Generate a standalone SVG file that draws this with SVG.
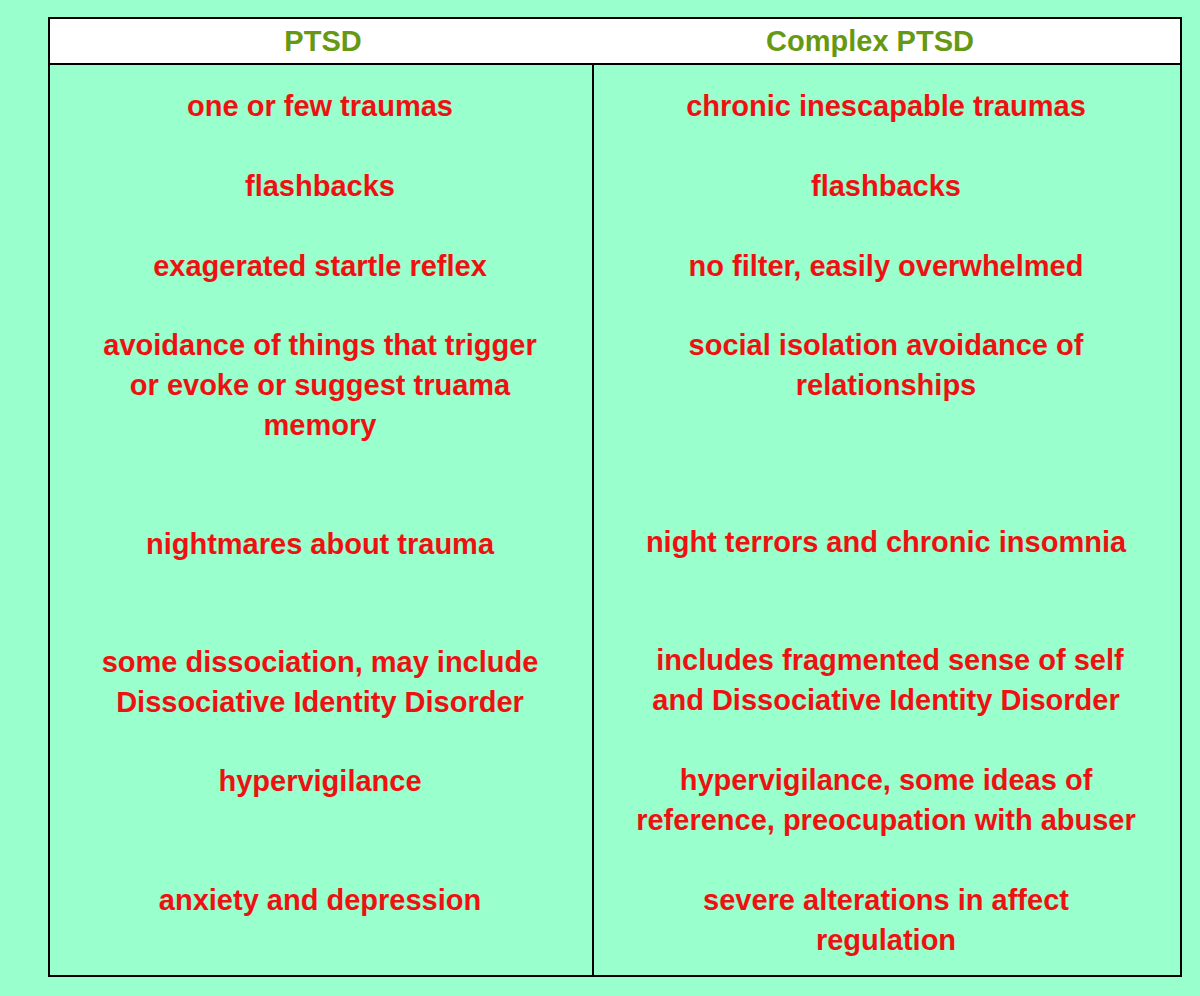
<svg xmlns="http://www.w3.org/2000/svg" width="1200" height="996" viewBox="0 0 1200 996">
<style>
.h{font-family:"Liberation Sans",Arial,sans-serif;font-weight:bold;font-size:29px;fill:#669911;text-anchor:middle}
.t{font-family:"Liberation Sans",Arial,sans-serif;font-weight:bold;font-size:29px;fill:#ee1111;text-anchor:middle}
</style>
<rect width="1200" height="996" fill="#99ffcc"/>
<g id="table">
<rect x="49" y="18" width="1132" height="46" fill="#ffffff"/>
<rect x="49" y="18" width="1132" height="958" fill="none" stroke="#000" stroke-width="2"/>
<line x1="49" y1="64" x2="1181" y2="64" stroke="#000" stroke-width="2"/>
<line x1="593" y1="64" x2="593" y2="976" stroke="#000" stroke-width="2"/>
</g>
<g id="ptsd">
<text class="h" x="323" y="51">PTSD</text>
<text class="t" x="320" y="116">one or few traumas</text>
<text class="t" x="320" y="196">flashbacks</text>
<text class="t" x="320" y="276">exagerated startle reflex</text>
<text class="t" x="320" y="355">avoidance of things that trigger</text>
<text class="t" x="320" y="395">or evoke or suggest truama</text>
<text class="t" x="320" y="435">memory</text>
<text class="t" x="320" y="554">nightmares about trauma</text>
<text class="t" x="320" y="672">some dissociation, may include</text>
<text class="t" x="320" y="712">Dissociative Identity Disorder</text>
<text class="t" x="320" y="791">hypervigilance</text>
<text class="t" x="320" y="910">anxiety and depression</text>
</g>
<g id="complex">
<text class="h" x="870" y="51">Complex PTSD</text>
<text class="t" x="886" y="116">chronic inescapable traumas</text>
<text class="t" x="886" y="196">flashbacks</text>
<text class="t" x="886" y="276">no filter, easily overwhelmed</text>
<text class="t" x="886" y="355">social isolation avoidance of</text>
<text class="t" x="886" y="395">relationships</text>
<text class="t" x="886" y="552">night terrors and chronic insomnia</text>
<text class="t" x="890" y="670">includes fragmented sense of self</text>
<text class="t" x="886" y="710">and Dissociative Identity Disorder</text>
<text class="t" x="886" y="790">hypervigilance, some ideas of</text>
<text class="t" x="886" y="830">reference, preocupation with abuser</text>
<text class="t" x="886" y="910">severe alterations in affect</text>
<text class="t" x="886" y="950">regulation</text>
</g>
</svg>
